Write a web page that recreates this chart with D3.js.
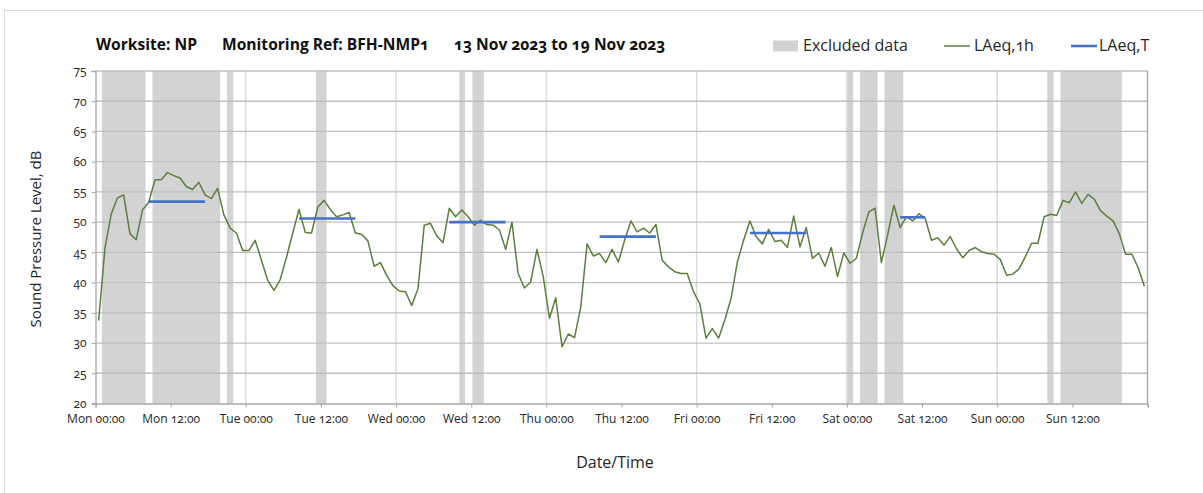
<!DOCTYPE html>
<html>
<head>
<meta charset="utf-8">
<script src="https://cdn.jsdelivr.net/npm/d3@7"></script>
<style>
  html, body { margin: 0; padding: 0; background: #fff; }
  svg { display: block; font-family: "Open Sans", "Lato", sans-serif; font-variant-numeric: oldstyle-nums; font-feature-settings: "onum" 1; }
</style>
</head>
<body>
<svg id="chart" width="1203" height="493"></svg>
<script>
// ---- data ----
const titleParts = ["Worksite: NP", "Monitoring Ref: BFH-NMP1", "13 Nov 2023 to 19 Nov 2023"];
const seriesNames = ["Excluded data", "LAeq,1h", "LAeq,T"];
const periodStart = "2023-11-13T00:00:00";
const periodEnd = "2023-11-20T00:00:00";
const firstReading = "2023-11-13T00:30:00"; // hourly readings, centred on the hour
// LAeq,1h hourly values (dB)
const laeq1h = [
  33.7, 45.6, 51.3, 54.0, 54.5, 48.1, 47.1, 52.0, 53.3, 57.0, 57.0, 58.2,
  57.7, 57.3, 55.9, 55.4, 56.6, 54.5, 53.9, 55.6, 51.2, 49.0, 48.2, 45.3,
  45.3, 47.0, 43.7, 40.4, 38.7, 40.5, 44.2, 48.2, 52.1, 48.3, 48.2, 52.5,
  53.6, 52.1, 50.9, 51.2, 51.6, 48.2, 48.0, 46.9, 42.7, 43.3, 41.2, 39.5,
  38.6, 38.5, 36.2, 39.0, 49.5, 49.8, 47.7, 46.6, 52.3, 50.9, 52.0, 50.9,
  49.5, 50.3, 49.6, 49.5, 48.7, 45.5, 50.0, 41.5, 39.1, 40.1, 45.5, 41.0,
  34.1, 37.5, 29.4, 31.5, 30.9, 36.0, 46.4, 44.4, 44.8, 43.3, 45.5, 43.4,
  47.0, 50.2, 48.4, 49.0, 48.2, 49.6, 43.7, 42.6, 41.8, 41.5, 41.5, 38.5,
  36.5, 30.8, 32.4, 30.8, 33.8, 37.4, 43.4, 47.0, 50.2, 47.6, 46.4, 48.8,
  46.8, 47.0, 45.8, 51.0, 45.9, 49.1, 44.0, 44.9, 42.7, 45.8, 41.0, 44.9,
  43.2, 44.0, 48.2, 51.7, 52.3, 43.3, 47.9, 52.8, 49.1, 50.9, 50.2, 51.4,
  50.6, 47.0, 47.4, 46.2, 47.6, 45.6, 44.1, 45.3, 45.8, 45.1, 44.8, 44.7,
  43.8, 41.2, 41.4, 42.3, 44.3, 46.5, 46.5, 50.9, 51.3, 51.1, 53.6, 53.2,
  55.0, 53.1, 54.6, 53.8, 51.9, 51.0, 50.2, 48.1, 44.7, 44.7, 42.5, 39.4
];
// Excluded periods (hours from Mon 00:00)
const excludedStart = [1.0, 9.1, 21.0, 35.2, 58.1, 60.2, 119.9, 122.1, 126.0, 152.0, 154.1];
const excludedEnd   = [8.0, 19.9, 22.0, 36.9, 59.0, 62.0, 121.0, 124.9, 129.0, 153.0, 163.9];
// LAeq,T daytime periods (hours from Mon 00:00) and values
const laeqTStart = [8.5, 32.5, 56.5, 80.5, 104.5, 128.5];
const laeqTEnd   = [17.5, 41.5, 65.5, 89.5, 113.5, 132.5];
const laeqTValue = [53.4, 50.6, 50.0, 47.6, 48.2, 50.8];
const yTicks = [20, 25, 30, 35, 40, 45, 50, 55, 60, 65, 70, 75];

// ---- chart ----
const svg = d3.select("#chart");
const HOUR = 3600 * 1000;
const t0 = new Date(periodStart);
const t1 = new Date(periodEnd);
const r0 = new Date(firstReading);
const hrs = h => new Date(t0.getTime() + h * HOUR);

const x = d3.scaleTime().domain([t0, t1]).range([95.5, 1147.5]);
const y = d3.scaleLinear().domain([20, 75]).range([403.5, 71]);

const axisGrey = "#a6a6a6";
const textCol = "#262626";

// outer frame
svg.append("rect").attr("x", 4.5).attr("y", 10.5).attr("width", 1300).attr("height", 600)
  .attr("fill", "none").attr("stroke", "#d9d9d9");

// excluded bands
svg.append("g").selectAll("rect").data(excludedStart.map((s, i) => [s, excludedEnd[i]]))
  .join("rect")
  .attr("x", d => x(hrs(d[0])))
  .attr("width", d => x(hrs(d[1])) - x(hrs(d[0])))
  .attr("y", y(75)).attr("height", y(20) - y(75))
  .attr("fill", "#d3d3d3");

// vertical gridlines (daily)
const dayTicks = d3.timeHour.every(24).range(t0, d3.timeHour.offset(t1, 1));
svg.append("g").selectAll("line").data(dayTicks.filter(d => d > t0 && d < t1)).join("line")
  .attr("x1", d => x(d)).attr("x2", d => x(d))
  .attr("y1", y(75)).attr("y2", y(20))
  .attr("stroke", "#dcdcdc").attr("stroke-width", 1.5);

// horizontal gridlines
svg.append("g").selectAll("line").data(yTicks.filter(v => v > 20)).join("line")
  .attr("x1", x(t0)).attr("x2", x(t1))
  .attr("y1", d => y(d)).attr("y2", d => y(d))
  .attr("stroke", "#bfbfbf").attr("stroke-width", 1.3);

// right border
svg.append("line").attr("x1", x(t1)).attr("x2", x(t1)).attr("y1", y(75)).attr("y2", y(20))
  .attr("stroke", axisGrey).attr("stroke-width", 1.3);

// y axis
const yAxis = svg.append("g").attr("transform", `translate(${x(t0)},0)`)
  .call(d3.axisLeft(y).tickValues(yTicks).tickSize(4).tickPadding(5));
yAxis.select(".domain").attr("stroke", axisGrey).attr("stroke-width", 1.3);
yAxis.selectAll(".tick line").attr("stroke", axisGrey);
yAxis.selectAll("text").attr("font-size", 12).attr("fill", textCol)
  .attr("font-family", "'Open Sans', sans-serif");

// x axis
const xTickVals = d3.timeHour.every(12).range(t0, d3.timeHour.offset(t1, 1));
const fmt = d3.timeFormat("%a %H:%M");
const xAxis = svg.append("g").attr("transform", `translate(0,${y(20)})`)
  .call(d3.axisBottom(x).tickValues(xTickVals).tickSize(4).tickPadding(7)
    .tickFormat(d => d >= t1 ? "" : fmt(d)));
xAxis.select(".domain").attr("stroke", axisGrey).attr("stroke-width", 1.3);
xAxis.selectAll(".tick line").attr("stroke", axisGrey);
xAxis.selectAll("text").attr("font-size", 12).attr("fill", textCol)
  .attr("font-family", "'Open Sans', sans-serif");

// LAeq,1h line
const pts = laeq1h.map((v, i) => ({ t: new Date(r0.getTime() + i * HOUR), v }));
svg.append("path").datum(pts)
  .attr("fill", "none").attr("stroke", "#5b7f3c").attr("stroke-width", 1.5)
  .attr("stroke-linejoin", "round")
  .attr("d", d3.line().x(d => x(d.t)).y(d => y(d.v)));

// LAeq,T segments
svg.append("g").selectAll("line").data(laeqTValue.map((v, i) => ({ s: laeqTStart[i], e: laeqTEnd[i], v })))
  .join("line")
  .attr("x1", d => x(hrs(d.s))).attr("x2", d => x(hrs(d.e)))
  .attr("y1", d => y(d.v)).attr("y2", d => y(d.v))
  .attr("stroke", "#4472c4").attr("stroke-width", 2.6);

// title
const titleX = [96, 222, 454];
svg.append("g").selectAll("text").data(titleParts).join("text")
  .attr("x", (d, i) => titleX[i]).attr("y", 50)
  .attr("font-size", 15.6).attr("font-weight", "bold").attr("fill", "#111")
  .text(d => d);

// legend
const lg = svg.append("g");
lg.append("rect").attr("x", 773).attr("y", 40.5).attr("width", 25).attr("height", 11).attr("fill", "#d3d3d3");
lg.append("text").attr("x", 803).attr("y", 51).attr("font-size", 16).attr("fill", textCol).text(seriesNames[0]);
lg.append("line").attr("x1", 944).attr("x2", 970).attr("y1", 46).attr("y2", 46)
  .attr("stroke", "#5b7f3c").attr("stroke-width", 1.5);
lg.append("text").attr("x", 974).attr("y", 51).attr("font-size", 16).attr("fill", textCol).text(seriesNames[1]);
lg.append("line").attr("x1", 1071).attr("x2", 1097).attr("y1", 46).attr("y2", 46)
  .attr("stroke", "#4472c4").attr("stroke-width", 2.6);
lg.append("text").attr("x", 1099).attr("y", 51).attr("font-size", 16).attr("fill", textCol).text(seriesNames[2]);

// axis titles
svg.append("text").attr("transform", "translate(41,239) rotate(-90)")
  .attr("text-anchor", "middle").attr("font-size", 15).attr("fill", textCol)
  .text("Sound Pressure Level, dB");
svg.append("text").attr("x", 615).attr("y", 468)
  .attr("text-anchor", "middle").attr("font-size", 16).attr("fill", textCol)
  .text("Date/Time");
</script>
</body>
</html>
